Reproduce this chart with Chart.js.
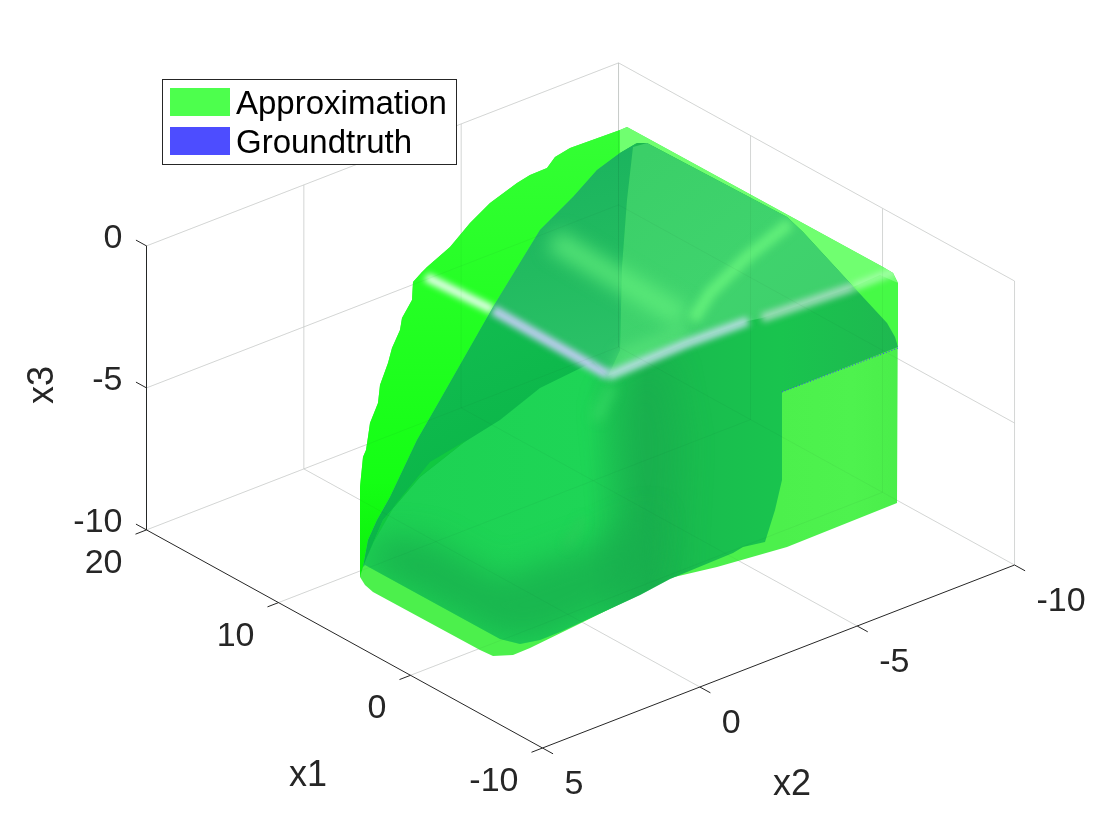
<!DOCTYPE html>
<html>
<head>
<meta charset="utf-8">
<style>
html, body { margin: 0; padding: 0; background: #fff; }
#wrap { width: 1120px; height: 840px; }
</style>
<script src="https://cdn.jsdelivr.net/npm/chart.js@4/dist/chart.umd.js"></script>
</head>
<body>
<div id="wrap"><canvas id="chart" width="1120" height="840"></canvas></div>
<script>
// axis values of the 3d box
const x1Ticks = [20, 10, 0, -10];
const x2Ticks = [5, 0, -5, -10];
const x3Ticks = [0, -5, -10];
const legendLabels = ['Approximation', 'Groundtruth'];
const legendColors = ['#4dff4d', '#4d4dff'];

// surfaces, in view plane coordinates [h, v]
const hullOutline = [[627,127],[883,267],[893,273],[898,283],[897,503],[787,547],[717,567],[670,578],[640,594],[573,627],[530,648],[513,655],[493,656],[480,650],[373,592],[365,585],[360,577],[360,487],[363,457],[366,450],[368,437],[370,423],[378,403],[380,385],[388,363],[392,348],[400,330],[402,318],[412,300],[413,282],[422,272],[427,267],[450,247],[470,223],[490,203],[517,183],[530,175],[547,168],[555,157],[570,148],[620,130],[627,127]];
const crescent = [[627,127],[620,130],[570,148],[555,157],[547,168],[530,175],[517,183],[490,203],[470,223],[450,247],[427,267],[422,272],[413,282],[412,300],[402,318],[400,330],[392,348],[388,363],[380,385],[378,403],[370,423],[368,437],[366,450],[363,457],[360,487],[360,577],[363,567],[368,540],[377,520],[390,497],[417,440],[440,400],[493,307],[540,230],[573,197],[597,170],[620,153],[620,130],[627,127]];
const topStrip = [[627,127],[883,267],[893,273],[898,283],[880,275],[853,287],[803,232],[787,217],[647,143],[637,143],[620,153],[620,130],[627,127]];
const rightStrip = [[898,283],[898,347],[895,337],[887,323],[868,303],[853,287],[880,275],[898,283]];
const bodyOutline = [[637,143],[647,143],[787,217],[803,232],[850,283],[887,323],[895,337],[898,347],[782,392],[782,480],[775,510],[765,542],[743,547],[733,553],[670,579],[640,595],[560,632],[540,640],[520,644],[500,639],[365,565],[363,567],[368,540],[377,520],[390,497],[417,440],[440,400],[493,307],[540,230],[573,197],[597,170],[620,153],[637,143]];
const upperLeftFace = [[637,143],[620,153],[597,170],[573,197],[540,230],[493,307],[608,376],[620,350],[622,267],[627,200],[633,147],[637,143]];
const lowerLeftFace = [[493,307],[440,400],[417,440],[390,497],[377,520],[368,540],[363,567],[367,557],[383,520],[420,477],[463,443],[500,420],[540,388],[593,362],[608,376],[493,307]];
const upperRightFace = [[633,147],[647,143],[787,217],[803,232],[850,283],[853,287],[762,318],[748,321],[685,343],[608,376],[620,350],[622,267],[627,200],[633,147]];
const leftSliver = [[467,440],[420,477],[383,520],[367,557],[372,545],[395,505],[430,462],[467,440]];
const frontShade = [[365,565],[500,639],[540,640],[640,595],[655,515],[590,545],[500,578],[430,540],[385,535],[365,565]];
const midShade = [[610,400],[640,372],[665,360],[680,440],[672,590],[610,600],[622,520],[610,400]];
const apexGlow = [[620,350],[683,325],[690,335],[650,355],[608,376],[620,350]];
const whiteStreak = [[426,277],[493,310]];
const blueStreak = [[493,310],[608,375]];
const rightStreakA = [[608,376],[685,344],[748,321]];
const rightStreakB = [[762,318],[853,287]];
const rightStreakC = [[853,287],[897,270]];
const softBandA = [[553,240],[683,317]];
const softBandB = [[790,223],[747,257],[710,293],[693,320]];
const softSpotA = [[612,386],[596,420]];
const softSpotB = [[583,518],[566,548]];
const stepEdge = [[898,348],[782,392]];

const viewWidth = 1120;
const viewHeight = 840;

// orthographic view of the box: value -> view plane
function project(x1, x2, x3) {
    return {
        x: 542.5 - (x1 + 10) * 13.2 - (x2 - 5) * 31.47,
        y: 748 - (x1 + 10) * 7.27 + (x2 - 5) * 12.2 - (x3 + 10) * 28.4
    };
}

// scales have no pixels yet when this first resolves, so go by the view size
function gradient(x0, y0, x1, y1, stops) {
    return (c) => {
        const k = c.chart.width / viewWidth;
        const g = c.chart.ctx.createLinearGradient(x0 * k, y0 * k, x1 * k, y1 * k);
        stops.forEach(s => g.addColorStop(s[0], s[1]));
        return g;
    };
}

const toXY = pts => pts.map(p => ({x: p[0], y: p[1]}));

const area = (pts, color, extra) => Object.assign({
    data: toXY(pts), showLine: true, fill: 'shape', backgroundColor: color,
    borderWidth: 0, pointRadius: 0
}, extra);

const stroke = (pts, color, width, extra) => Object.assign({
    data: pts, showLine: true, fill: false, borderColor: color,
    borderWidth: width, pointRadius: 0
}, extra);

const gridColor = '#dedede';
const axisColor = '#262626';

function gridLines(color) {
    const out = [];
    // wall at x1 = 20
    x2Ticks.forEach(v => out.push(stroke([project(20, v, -10), project(20, v, 0)], color, 1)));
    x3Ticks.forEach(v => out.push(stroke([project(20, 5, v), project(20, -10, v)], color, 1)));
    // wall at x2 = -10
    x1Ticks.forEach(v => out.push(stroke([project(v, -10, -10), project(v, -10, 0)], color, 1)));
    x3Ticks.forEach(v => out.push(stroke([project(20, -10, v), project(-10, -10, v)], color, 1)));
    // floor
    x1Ticks.slice(1, 3).forEach(v => out.push(stroke([project(v, 5, -10), project(v, -10, -10)], color, 1)));
    x2Ticks.slice(1, 3).forEach(v => out.push(stroke([project(-10, v, -10), project(20, v, -10)], color, 1)));
    return out;
}

function axisLines() {
    const out = [
        stroke([project(20, 5, -10), project(-10, 5, -10)], axisColor, 1),
        stroke([project(-10, 5, -10), project(-10, -10, -10)], axisColor, 1),
        stroke([project(20, 5, 0), project(20, 5, -10)], axisColor, 1)
    ];
    x1Ticks.forEach(v => out.push(stroke([project(v, 5, -10), project(v, 5.35, -10)], axisColor, 1)));
    x2Ticks.forEach(v => out.push(stroke([project(-10, v, -10), project(-10.8, v, -10)], axisColor, 1)));
    x3Ticks.forEach(v => out.push(stroke([project(20, 5, v), project(20.8, 5, v)], axisColor, 1)));
    return out;
}

const layers = [
    ...gridLines(gridColor),
    ...axisLines(),
    area(hullOutline, gradient(780, 0, 900, 0, [[0, '#4cf04c'], [0.6, '#4ef24e'], [1, '#4aee4a']]), {label: legendLabels[0]}),
    area(rightStrip, '#46fa46'),
    area(crescent, gradient(0, 130, 0, 570, [[0, '#34ff34'], [0.45, '#22ff22'], [0.8, '#14ff14'], [1, '#0cf00c']])),
    area(topStrip, '#70ff70'),
    area(bodyOutline, gradient(360, 0, 900, 0, [[0, '#1dd152'], [0.42, '#1ed556'], [0.53, '#19b44e'], [0.63, '#19bd4e'], [0.78, '#19c44e'], [1, '#1fb850']]), {label: legendLabels[1]}),
    area(midShade, 'rgba(24,170,78,0.4)', {blur: 16, clipTo: bodyOutline}),
    area(frontShade, 'rgba(24,174,78,0.75)', {blur: 15, clipTo: bodyOutline}),
    area(upperLeftFace, gradient(560, 160, 600, 370, [[0, '#1bb45e'], [0.5, '#22bb60'], [1, '#2cc268']])),
    area(lowerLeftFace, gradient(430, 330, 500, 480, [[0, '#12bc50'], [1, '#0ab648']])),
    area(leftSliver, '#10c840'),
    area(upperRightFace, gradient(650, 150, 800, 330, [[0, '#3bcf68'], [0.6, '#3fd36d'], [1, '#3fd06c']])),
    area(apexGlow, 'rgba(95,232,125,0.6)', {blur: 7, clipTo: bodyOutline}),
    stroke(toXY(softBandA), 'rgba(100,240,125,0.75)', 22, {blur: 9, clipTo: bodyOutline}),
    stroke(toXY(softBandB), 'rgba(105,245,125,0.85)', 12, {blur: 4, clipTo: upperRightFace}),
    stroke(toXY(softSpotA), 'rgba(70,225,110,0.5)', 10, {blur: 6, clipTo: bodyOutline}),
    stroke(toXY(softSpotB), 'rgba(50,200,90,0.45)', 7, {blur: 5, clipTo: bodyOutline}),
    stroke(toXY(whiteStreak), 'rgba(230,255,235,0.98)', 9, {blur: 3, clipTo: crescent}),
    stroke(toXY(blueStreak), 'rgba(190,205,240,1)', 10, {blur: 3, clipTo: bodyOutline}),
    stroke(toXY(rightStreakA), 'rgba(185,222,228,0.95)', 9, {blur: 3, clipTo: bodyOutline}),
    stroke(toXY(rightStreakB), 'rgba(170,222,195,0.9)', 9, {blur: 3, clipTo: bodyOutline}),
    stroke(toXY(rightStreakC), 'rgba(170,255,175,0.85)', 8, {blur: 3, clipTo: hullOutline}),
    ...gridLines('rgba(20,60,40,0.05)'),
    stroke(toXY(stepEdge), '#4040ff', 1, {borderDash: [1, 2]})
];

// chart.js paints the last dataset first
const datasets = layers.reverse();

// ctx.filter and a clip region per dataset, has to run before the filler
const layerPlugin = {
    id: 'layer',
    beforeDatasetDraw(chart, args) {
        const ds = chart.data.datasets[args.index];
        const ctx = chart.ctx;
        ctx.save();
        if (ds.clipTo) {
            ctx.beginPath();
            ds.clipTo.forEach((p, i) => {
                const px = chart.scales.x.getPixelForValue(p[0]);
                const py = chart.scales.y.getPixelForValue(p[1]);
                if (i === 0) ctx.moveTo(px, py); else ctx.lineTo(px, py);
            });
            ctx.closePath();
            ctx.clip();
        }
        if (ds.blur) ctx.filter = 'blur(' + ds.blur + 'px)';
    },
    afterDatasetDraw(chart) {
        chart.ctx.restore();
    }
};

function drawText(ctx, text, x, y, align, size) {
    ctx.font = size + 'px "Liberation Sans"';
    ctx.textAlign = align;
    ctx.textBaseline = 'alphabetic';
    ctx.fillText(text, x, y);
}

const labelPlugin = {
    id: 'labels3d',
    afterDatasetsDraw(chart) {
        const ctx = chart.ctx;
        const sx = chart.scales.x, sy = chart.scales.y;
        const at = p => ({x: sx.getPixelForValue(p.x), y: sy.getPixelForValue(p.y)});
        ctx.save();
        ctx.fillStyle = axisColor;
        x1Ticks.forEach(v => {
            const p = at(project(v, 5, -10));
            drawText(ctx, String(v), p.x - 24, p.y + 43, 'right', 34);
        });
        x2Ticks.forEach(v => {
            const p = at(project(-10, v, -10));
            drawText(ctx, String(v), p.x + 22, p.y + 46, 'left', 34);
        });
        x3Ticks.forEach(v => {
            const p = at(project(20, 5, v));
            drawText(ctx, String(v), p.x - 24, p.y + 2, 'right', 34);
        });
        drawText(ctx, 'x1', 308, 786, 'center', 36);
        drawText(ctx, 'x2', 792, 795, 'center', 36);
        ctx.save();
        ctx.translate(53, 385);
        ctx.rotate(-Math.PI / 2);
        drawText(ctx, 'x3', 0, 0, 'center', 36);
        ctx.restore();

        // legend box
        ctx.fillStyle = '#fff';
        ctx.strokeStyle = axisColor;
        ctx.lineWidth = 1;
        ctx.fillRect(162.5, 79.5, 294, 85);
        ctx.strokeRect(162.5, 79.5, 294, 85);
        legendLabels.forEach((t, i) => {
            ctx.fillStyle = legendColors[i];
            ctx.fillRect(170, 88 + i * 39, 60, 28);
            ctx.fillStyle = '#000';
            drawText(ctx, t, 236, 114 + i * 39, 'left', 33);
        });
        ctx.restore();
    }
};

Chart.unregister(Chart.Filler);
Chart.register(layerPlugin, Chart.Filler);

new Chart(document.getElementById('chart'), {
    type: 'scatter',
    data: {datasets: datasets},
    options: {
        responsive: false,
        animation: false,
        layout: {padding: 0},
        plugins: {legend: {display: false}, tooltip: {enabled: false}, filler: {drawTime: 'beforeDatasetDraw'}},
        scales: {
            x: {type: 'linear', display: false, min: 0, max: viewWidth},
            y: {type: 'linear', display: false, min: 0, max: viewHeight, reverse: true}
        }
    },
    plugins: [labelPlugin]
});
</script>
</body>
</html>
